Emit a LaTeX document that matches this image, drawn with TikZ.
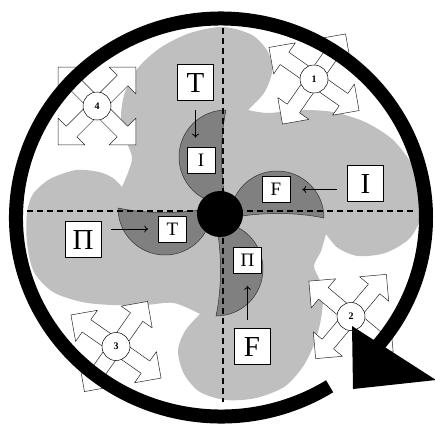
\documentclass[tikz,border=0pt]{standalone}
\usepackage{fontspec}
\setmainfont{Liberation Serif}
\usetikzlibrary{calc,arrows.meta}
\definecolor{lobe}{gray}{0.75}
\definecolor{bladegray}{gray}{0.5}
\tikzset{
  bigbox/.style={draw,fill=white,line width=0.6pt,minimum width=36pt,minimum height=36pt,inner sep=0pt,font=\fontsize{29}{30}\selectfont},
  smallbox/.style={draw,fill=white,line width=0.6pt,minimum width=28pt,minimum height=26pt,inner sep=0pt,font=\fontsize{19}{20}\selectfont},
  numtag/.style={circle,draw,fill=white,line width=0.5pt,minimum size=28pt,inner sep=0pt,font=\fontsize{10}{12}\selectfont\bfseries},
  push/.style={-{To[length=4pt,width=7pt]},line width=0.8pt},
  axisline/.style={line width=1.1pt,dash pattern=on 6pt off 4pt},
  bladepic/.pic={
    \filldraw[fill=bladegray,draw=black!80,line width=0.5pt] (103,5) arc[start angle=0,end angle=-180,radius=47] .. controls (40,-1) and (75,-1) .. cycle;
  },
  fourway/.pic={
    \foreach \a in {45,135,225,315}
      \filldraw[fill=white,draw=black!85,line width=0.5pt,rotate=\a] (8,-7.5) -- (36,-7.5) -- (36,-19) -- (55,0) -- (36,19) -- (36,7.5) -- (8,7.5) -- cycle;
  }
}
\begin{document}
\begin{tikzpicture}[x=1pt,y=-1pt,line join=round]
\useasboundingbox (0,0) rectangle (435,424);
\coordinate (O) at (221,213);
\coordinate (R) at (221,217.5);
\fill[lobe] plot[smooth] coordinates {(122,187) (129,170) (132,157) (126,140) (121,117) (125,92) (138,68) (160,48) (190,33) (223,27) (252,35) (268,52) (272,72) (264,93) (248,110)}
  -- plot[smooth] coordinates {(248,110) (268,113) (300,110) (333,112) (365,122) (392,139) (411,163) (421,190) (421,217) (409,239) (385,253) (358,256) (338,248) (326,234)}
  -- plot[smooth] coordinates {(326,234) (321,251) (314,266) (320,281) (323,300) (320,324) (313,347) (302,368) (284,387) (256,398) (226,400) (200,392) (184,374) (178,351) (185,331) (200,314)}
  -- plot[smooth] coordinates {(200,314) (174,303) (145,305) (112,305) (82,302) (53,292) (34,272) (27,243) (27,213) (33,194) (50,179) (76,170) (99,172) (113,178) (122,187)}
  -- cycle;
\foreach \r in {0,90,180,270}
  \pic[rotate=\r] at (O) {bladepic};
\draw[axisline] (223,28) -- (223,402);
\draw[axisline] (27,211) -- (413,211);
\fill (220,214) circle[radius=23];
\node[bigbox] (Tbig) at (195.5,82.5) {T};
\node[bigbox] (Ibig) at (365.5,183.5) {I};
\node[bigbox] (Pbig) at (83,239.5) {Π};
\node[bigbox] (Fbig) at (252,346.5) {F};
\node[smallbox] (Isml) at (201,160) {I};
\node[smallbox] (Fsml) at (276,189.5) {F};
\node[smallbox] (Tsml) at (172.5,229) {T};
\node[smallbox] (Psml) at (247.5,260.5) {Π};
\draw[push,shorten <=9pt,shorten >=9pt] (Tbig.south) -- (Tbig.south |- Isml.north);
\draw[push,shorten <=10pt,shorten >=12pt] (Fsml.east -| Ibig.west) -- (Fsml.east);
\draw[push,shorten <=10pt,shorten >=10pt] (Tsml.west -| Pbig.east) -- (Tsml.west);
\draw[push,shorten <=8pt,shorten >=12pt] (Psml.south |- Fbig.north) -- (Psml.south);
\foreach \n/\p/\r in {1/{(314,79)}/10,2/{(351,316.5)}/5,3/{(116,346.5)}/10,4/{(97,106)}/0}{
  \pic[rotate=\r] at \p {fourway};
  \node[numtag] (n\n) at \p {\n};
}
\draw[line width=14pt] ($(R)+(58:205 and 199)$) arc[start angle=58,end angle=400,x radius=205,y radius=199];
\fill (352,326) -- (436,380) -- (353,389) -- cycle;
\end{tikzpicture}
\end{document}
